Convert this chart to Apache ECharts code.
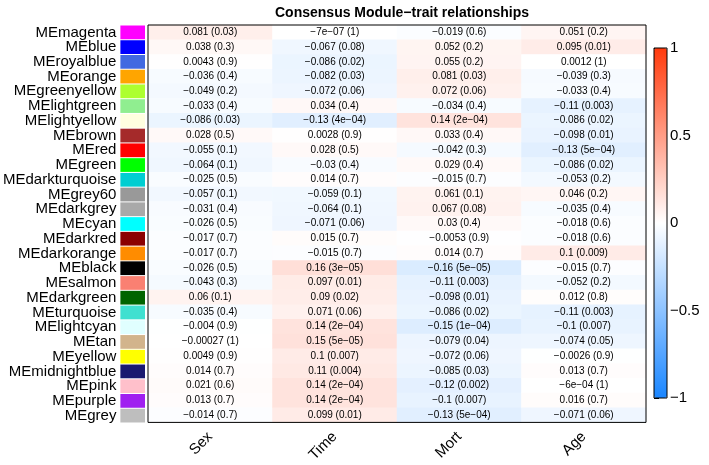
<!DOCTYPE html>
<html><head><meta charset="utf-8">
<script src="https://cdn.jsdelivr.net/npm/echarts@6/dist/echarts.min.js"></script>
<style>html,body{margin:0;padding:0;background:#fff}#c{width:709px;height:465px}</style>
</head><body><div id="c"></div>
<script>
const traits = ['Sex', 'Time', 'Mort', 'Age'];
const modules = ['MEmagenta','MEblue','MEroyalblue','MEorange','MEgreenyellow','MElightgreen','MElightyellow','MEbrown','MEred','MEgreen','MEdarkturquoise','MEgrey60','MEdarkgrey','MEcyan','MEdarkred','MEdarkorange','MEblack','MEsalmon','MEdarkgreen','MEturquoise','MElightcyan','MEtan','MEyellow','MEmidnightblue','MEpink','MEpurple','MEgrey'];
const moduleColors = ['#FF00FF','#0000FF','#4169E1','#FFA500','#ADFF2F','#90EE90','#FFFFE0','#A52A2A','#FF0000','#00FF00','#00CED1','#999999','#A9A9A9','#00FFFF','#8B0000','#FF8C00','#000000','#FA8072','#006400','#40E0D0','#E0FFFF','#D2B48C','#FFFF00','#191970','#FFC0CB','#A020F0','#BEBEBE'];
const sexCor  = ['0.081','0.038','0.0043','-0.036','-0.049','-0.033','-0.086','0.028','-0.055','-0.064','-0.025','-0.057','-0.031','-0.026','-0.017','-0.017','-0.026','-0.043','0.06','-0.035','-0.004','-0.00027','0.0049','0.014','0.021','0.013','-0.014'];
const sexP    = ['0.03','0.3','0.9','0.4','0.2','0.4','0.03','0.5','0.1','0.1','0.5','0.1','0.4','0.5','0.7','0.7','0.5','0.3','0.1','0.4','0.9','1','0.9','0.7','0.6','0.7','0.7'];
const timeCor = ['-7e-07','-0.067','-0.086','-0.082','-0.072','0.034','-0.13','0.0028','0.028','-0.03','0.014','-0.059','-0.064','-0.071','0.015','-0.015','0.16','0.097','0.09','0.071','0.14','0.15','0.1','0.11','0.14','0.14','0.099'];
const timeP   = ['1','0.08','0.02','0.03','0.06','0.4','4e-04','0.9','0.5','0.4','0.7','0.1','0.1','0.06','0.7','0.7','3e-05','0.01','0.02','0.06','2e-04','5e-05','0.007','0.004','2e-04','2e-04','0.01'];
const mortCor = ['-0.019','0.052','0.055','0.081','0.072','-0.034','0.14','0.033','-0.042','0.029','-0.015','0.061','0.067','0.03','-0.0053','0.014','-0.16','-0.11','-0.098','-0.086','-0.15','-0.079','-0.072','-0.085','-0.12','-0.1','-0.13'];
const mortP   = ['0.6','0.2','0.2','0.03','0.06','0.4','2e-04','0.4','0.3','0.4','0.7','0.1','0.08','0.4','0.9','0.7','5e-05','0.003','0.01','0.02','1e-04','0.04','0.06','0.03','0.002','0.007','5e-04'];
const ageCor  = ['0.051','0.095','0.0012','-0.039','-0.033','-0.11','-0.086','-0.098','-0.13','-0.086','-0.053','0.046','-0.035','-0.018','-0.018','0.1','-0.015','-0.052','0.012','-0.11','-0.1','-0.074','-0.0026','0.013','-6e-04','0.016','-0.071'];
const ageP    = ['0.2','0.01','1','0.3','0.4','0.003','0.02','0.01','5e-04','0.02','0.2','0.2','0.4','0.6','0.6','0.009','0.7','0.2','0.8','0.003','0.007','0.05','0.9','0.7','1','0.7','0.06'];
const colorbarTicks = [-1, -0.5, 0, 0.5, 1];

const corCols = [sexCor, timeCor, mortCor, ageCor];
const pCols = [sexP, timeP, mortP, ageP];
const fix = s => s.replace(/-/g, '\u2212');

const heatData = [];
corCols.forEach((col, j) => col.forEach((v, i) => heatData.push([j, i, parseFloat(v)])));
const boxData = modules.map((m, i) => [0, i]);

const FONT = 'Liberation Sans, Arial, Helvetica, sans-serif';
const chart = echarts.init(document.getElementById('c'));
chart.setOption({
  animation: false,
  textStyle: { fontFamily: FONT },
  title: {
    text: 'Consensus Module\u2212trait relationships',
    left: 397, top: 1, textAlign: 'center',
    textStyle: { fontFamily: FONT, fontSize: 14, fontWeight: 'bold', color: '#000' }
  },
  grid: [
    { left: 148, top: 25, width: 498, height: 398, show: true, borderColor: '#000', borderWidth: 1, backgroundColor: 'transparent', z: 10 },
    { left: 119, top: 25, width: 26, height: 398 },
    { left: 654, top: 48, width: 13, height: 350, show: true, borderColor: '#000', borderWidth: 1, backgroundColor: 'transparent', z: 10 }
  ],
  xAxis: [
    { gridIndex: 0, type: 'category', data: traits, position: 'bottom',
      axisLine: { show: false }, axisTick: { show: false }, splitLine: { show: false },
      axisLabel: { rotate: 45, fontSize: 15, color: '#000', margin: 12, fontFamily: FONT } },
    { gridIndex: 1, type: 'category', data: ['c'], show: false },
    { gridIndex: 2, type: 'value', min: 0, max: 1, show: false }
  ],
  yAxis: [
    { gridIndex: 0, type: 'category', data: modules, inverse: true, show: false },
    { gridIndex: 1, type: 'category', data: modules, inverse: true,
      axisLine: { show: false }, axisTick: { show: false }, splitLine: { show: false },
      axisLabel: { interval: 0, fontSize: 15, color: '#000', margin: 4, fontFamily: FONT } },
    { gridIndex: 2, type: 'value', min: colorbarTicks[0], max: colorbarTicks[colorbarTicks.length - 1], interval: 0.5, position: 'right',
      axisLine: { show: false }, splitLine: { show: false },
      axisTick: { show: true, length: 5, lineStyle: { color: '#000' } },
      axisLabel: { fontSize: 15, color: '#000', margin: 3, fontFamily: FONT,
        formatter: v => fix(String(v)) } }
  ],
  visualMap: {
    type: 'continuous', min: -1, max: 1, seriesIndex: 0, calculable: false,
    left: 654, top: 48, itemWidth: 13, itemHeight: 350, padding: 0, text: null, showLabel: false,
    inRange: { color: ['#1a86ff', '#ffffff', '#ff3a0c'] }
  },
  series: [
    { type: 'heatmap', xAxisIndex: 0, yAxisIndex: 0, data: heatData,
      label: { show: true, fontSize: 10, color: '#000', fontFamily: FONT,
        formatter: p => fix(corCols[p.value[0]][p.value[1]]) + ' (' + fix(pCols[p.value[0]][p.value[1]]) + ')' },
      emphasis: { disabled: true } },
    { type: 'custom', xAxisIndex: 1, yAxisIndex: 1, data: boxData,
      renderItem: (params, api) => {
        const p = api.coord([api.value(0), api.value(1)]);
        const s = api.size([1, 1]);
        return { type: 'rect', shape: { x: p[0] - s[0] / 2, y: p[1] - s[1] / 2 + 0.5, width: s[0], height: s[1] - 1 },
          style: { fill: moduleColors[params.dataIndex] } };
      } }
  ]
});
</script></body></html>
